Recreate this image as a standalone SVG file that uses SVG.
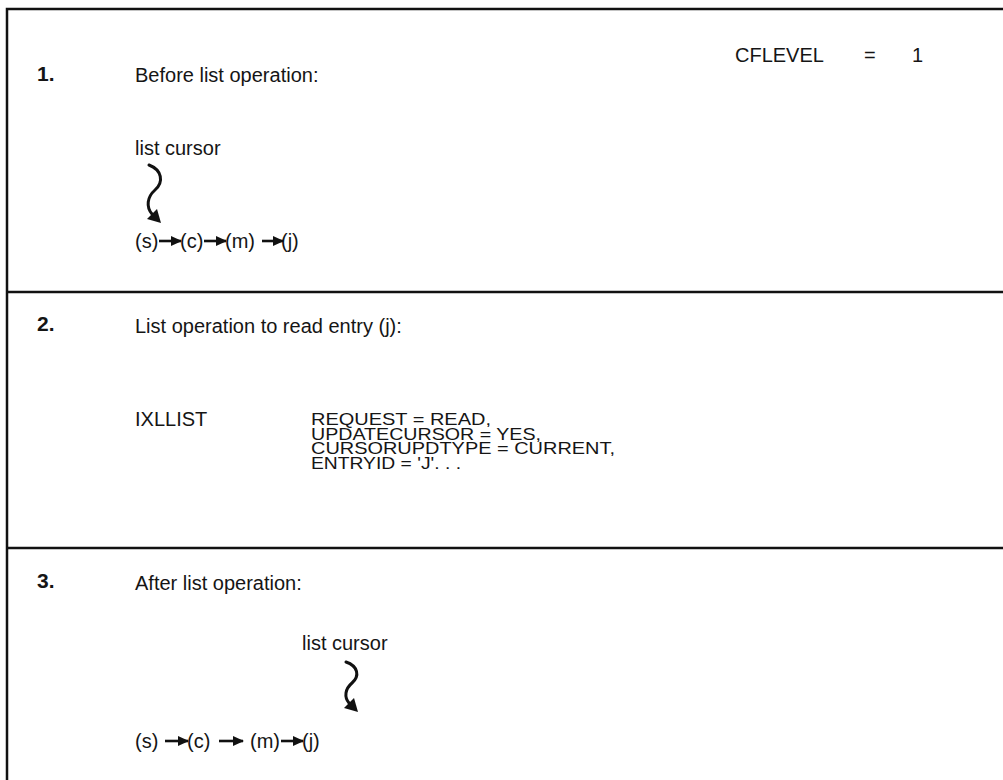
<svg xmlns="http://www.w3.org/2000/svg" width="1003" height="780" viewBox="0 0 1003 780">
<style>
text{font-family:"Liberation Sans",Arial,sans-serif;fill:#151515}
.num{font-size:21px;font-weight:bold}
.t{font-size:20px}
.blk{font-size:16.5px}
.frame{stroke:#111;stroke-width:2.5;fill:none}
.arr{stroke:#111;stroke-width:2.6;fill:none}
.sq{stroke:#111;stroke-width:3;fill:none;stroke-linecap:round}
.hd{fill:#111}
</style>
<defs>
<marker id="ah" markerWidth="11" markerHeight="10" refX="10" refY="5" orient="auto" markerUnits="userSpaceOnUse">
<path d="M0,0 L11,5 L0,10 Z" fill="#111"/>
</marker>
</defs>
<g id="frame">
<path class="frame" d="M7,780 V9 H1003"/>
<path class="frame" d="M7,292 H1003"/>
<path class="frame" d="M7,548 H1003"/>
</g>
<g id="step1">
<text class="num" x="37" y="81">1.</text>
<text class="t" x="135" y="82">Before list operation:</text>
<text class="t" y="62"><tspan x="735">CFLEVEL</tspan><tspan x="864">=</tspan><tspan x="912">1</tspan></text>
<text class="t" x="135" y="155">list cursor</text>
<text class="t" x="135" y="248">(s)</text>
<text class="t" x="180" y="248">(c)</text>
<text class="t" x="225" y="248">(m)</text>
<text class="t" x="281" y="248">(j)</text>
</g>
<g id="step2">
<text class="num" x="37" y="331">2.</text>
<text class="t" x="135" y="333">List operation to read entry (j):</text>
<text class="t" x="135" y="426">IXLLIST</text>
<text class="blk" x="311" y="425" textLength="180" lengthAdjust="spacingAndGlyphs">REQUEST  =  READ,</text>
<text class="blk" x="311" y="439.5" textLength="230" lengthAdjust="spacingAndGlyphs">UPDATECURSOR  =  YES,</text>
<text class="blk" x="311" y="454" textLength="304" lengthAdjust="spacingAndGlyphs">CURSORUPDTYPE  =  CURRENT,</text>
<text class="blk" x="311" y="468.5" textLength="150" lengthAdjust="spacingAndGlyphs">ENTRYID  =  'J'. . .</text>
</g>
<g id="step3">
<text class="num" x="37" y="588">3.</text>
<text class="t" x="135" y="590">After list operation:</text>
<text class="t" x="302" y="650">list cursor</text>
<text class="t" x="135" y="748">(s)</text>
<text class="t" x="187" y="748">(c)</text>
<text class="t" x="250" y="748">(m)</text>
<text class="t" x="302" y="748">(j)</text>
</g>
<g id="connectors">
<path class="sq" d="M149,165 C162,170 164,182 155,190 C147,197 146,207 152,214"/>
<polygon class="hd" points="161,223 147,219 157,209"/>
<path class="sq" d="M346,662 C358,666 360,676 352,683 C345,689 344,697 349,703"/>
<polygon class="hd" points="358,712 344,708 354,698"/>
<path class="arr" d="M159,241 H181" marker-end="url(#ah)"/>
<path class="arr" d="M204,241 H226" marker-end="url(#ah)"/>
<path class="arr" d="M262,241 H283" marker-end="url(#ah)"/>
<path class="arr" d="M165,741 H188" marker-end="url(#ah)"/>
<path class="arr" d="M219,741 H243" marker-end="url(#ah)"/>
<path class="arr" d="M281,741 H303" marker-end="url(#ah)"/>
</g>
</svg>
